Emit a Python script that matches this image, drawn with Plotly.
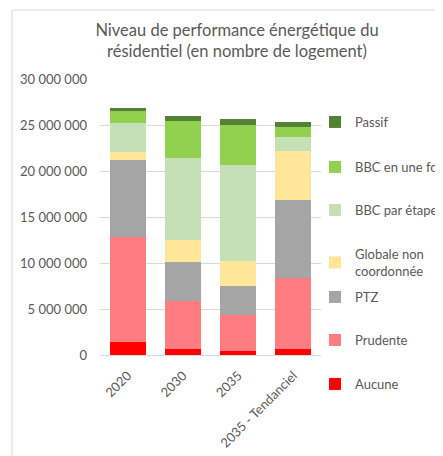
import plotly.graph_objects as go

# --- Data (in logements) ---
categories = ["2020", "2030", "2035", "2035 - Tendanciel"]

aucune = [1450000, 620000, 430000, 620000]
prudente = [11350000, 5250000, 3920000, 7700000]
ptz = [8400000, 4280000, 3150000, 8550000]
globale = [870000, 2350000, 2700000, 5350000]
bbc_etape = [3200000, 8900000, 10400000, 1500000]
bbc_une_fois = [1350000, 4000000, 4400000, 1100000]
passif = [200000, 600000, 700000, 500000]

series_names = ["Aucune", "Prudente", "PTZ", "Globale non<br>coordonnée",
                "BBC par étape", "BBC en une fois", "Passif"]
series_values = [aucune, prudente, ptz, globale, bbc_etape, bbc_une_fois, passif]
series_colors = ["#ff0000", "#ff7c80", "#a5a5a5", "#ffe699",
                 "#c5e0b4", "#92d050", "#548235"]

FONT = "Lato, 'Open Sans', sans-serif"
GREY_TXT = "#595959"

# page body has an 8px margin, so the figure is 8px smaller than the window
W, H = 435, 448
L, R, T, B = 92, 122, 71, 101
pw, ph = W - L - R, H - T - B


def px_x(p):
    return (p - L) / pw


def px_y(p):
    return 1 - (p - T) / ph


# vertical centre (figure pixels) of each legend entry, Excel-like spacing
legend_rows = [376, 332, 289, 254.5, 202, 159, 114]

fig = go.Figure()
legends = {}
for i, (name, vals, col) in enumerate(zip(series_names, series_values, series_colors)):
    key = "legend" if i == 0 else f"legend{i + 1}"
    fig.add_trace(go.Bar(
        x=categories, y=vals, name=name,
        marker=dict(color=col, line=dict(width=0)),
        legend=key,
    ))
    legends[key] = dict(
        xref="container", yref="container",
        x=307 / W, xanchor="left", y=1 - legend_rows[i] / H, yanchor="middle",
        font=dict(size=13, color=GREY_TXT, family=FONT),
        bgcolor="rgba(0,0,0,0)", itemclick=False, itemdoubleclick=False,
    )

fig.update_layout(
    width=W, height=H,
    barmode="stack", bargap=0.35,
    paper_bgcolor="white", plot_bgcolor="white",
    margin=dict(l=L, r=R, t=T, b=B, autoexpand=False),
    separators=", ",
    font=dict(family=FONT, color=GREY_TXT, size=12),
    showlegend=True,
    title=dict(
        text="Niveau de performance énergétique du<br>résidentiel (en nombre de logement)",
        x=229 / W, xref="container", xanchor="center",
        y=1 - 28 / H, yanchor="top",
        font=dict(family=FONT, size=16.5, color=GREY_TXT),
    ),
    xaxis=dict(
        tickangle=-45, showgrid=False, showline=True, linecolor="#d9d9d9",
        ticks="", ticklabelstandoff=7, tickfont=dict(size=13, color=GREY_TXT),
    ),
    yaxis=dict(
        range=[0, 30000000], dtick=5000000, tickformat=",.0f",
        gridcolor="#d9d9d9", zeroline=False, showline=False,
        ticks="", ticklabelstandoff=12, tickfont=dict(size=13, color=GREY_TXT),
    ),
    shapes=[dict(
        type="rect", xref="paper", yref="paper",
        x0=px_x(4), x1=px_x(460), y0=px_y(470), y1=px_y(2),
        line=dict(color="#d9d9d9", width=1), layer="below",
    )],
    **legends,
)

fig.write_html("out.html")
